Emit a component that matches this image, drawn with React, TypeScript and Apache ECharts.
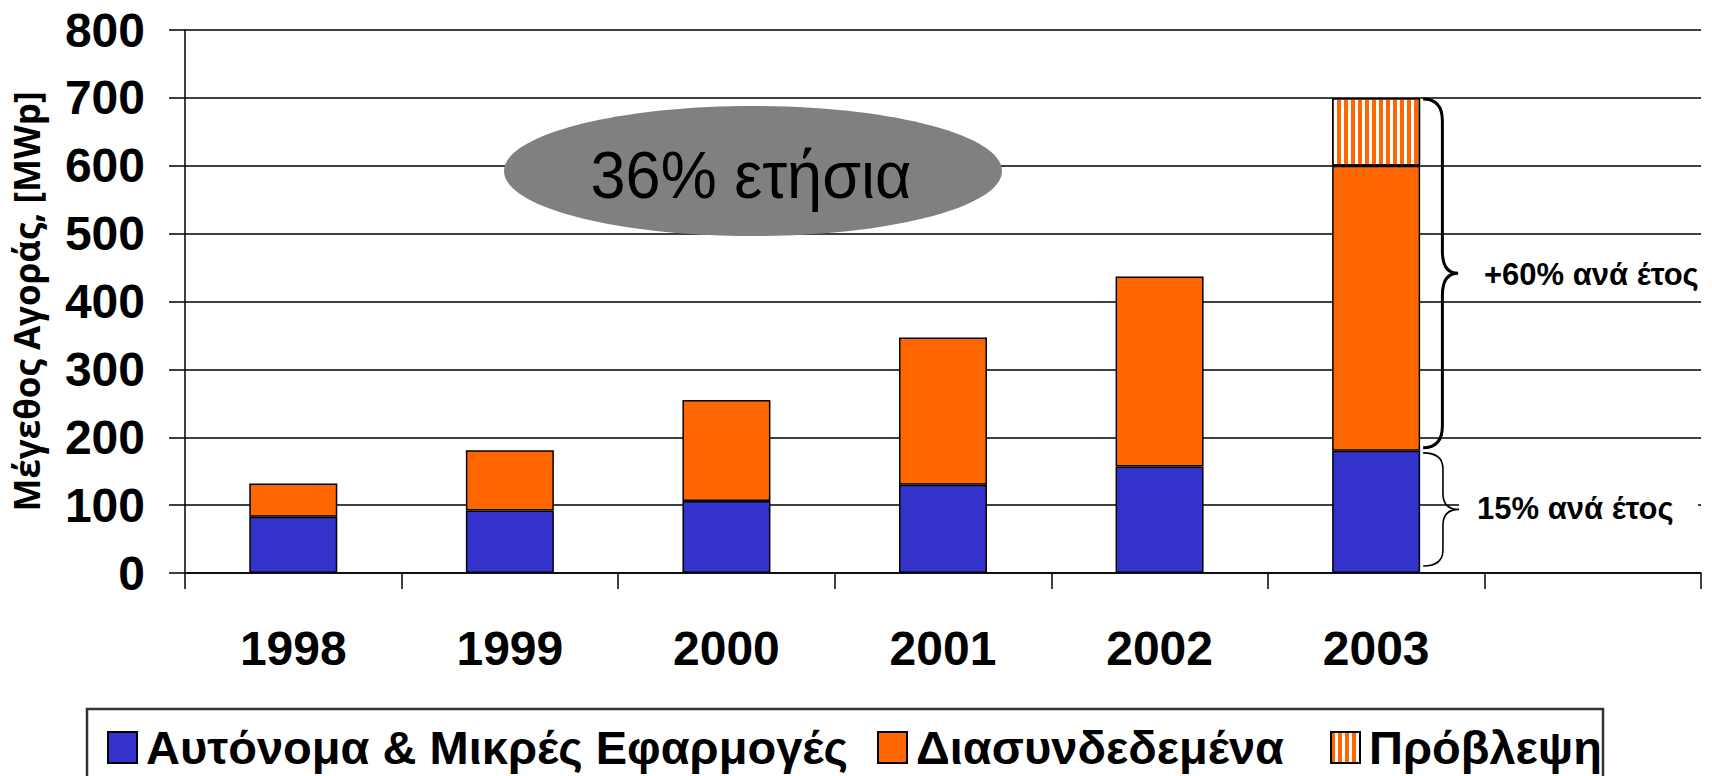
import React, { useEffect, useRef } from 'react';
import * as echarts from 'echarts';

const years = ['1998', '1999', '2000', '2001', '2002', '2003', ''];
const standalone = [83, 92, 106, 130, 157, 180, null];
const gridConnected = [49, 89, 149, 217, 280, 420, null];
const forecast = [null, null, null, null, null, 100, null];
const seriesNames = ['Αυτόνομα & Μικρές Εφαρμογές', 'Διασυνδεδεμένα', 'Πρόβλεψη'];
const yMin = 0;
const yMax = 800;
const yInterval = 100;
const yAxisTitle = 'Μέγεθος Αγοράς, [MWp]';
const bubbleText = '36% ετήσια';
const upperNote = '+60% ανά έτος';
const lowerNote = '15% ανά έτος';

const FONT = '"Liberation Sans", Arial, sans-serif';

const Brace = (echarts.graphic as any).extendShape({
  shape: { x: 0, y1: 0, y2: 0, w: 30, r: 20 },
  buildPath(ctx: any, s: any) {
    const { x, y1, y2, w, r } = s;
    const ym = (y1 + y2) / 2;
    const hx = w * 0.55;
    ctx.moveTo(x, y1);
    ctx.quadraticCurveTo(x + hx, y1, x + hx, y1 + r);
    ctx.lineTo(x + hx, ym - r);
    ctx.quadraticCurveTo(x + hx, ym, x + w, ym);
    ctx.moveTo(x + w, ym);
    ctx.quadraticCurveTo(x + hx, ym, x + hx, ym + r);
    ctx.lineTo(x + hx, y2 - r);
    ctx.quadraticCurveTo(x + hx, y2, x, y2);
  },
});
(echarts.graphic as any).registerShape('brace', Brace);

export default function App() {
  const ref = useRef<HTMLDivElement>(null);
  useEffect(() => {
    if (!ref.current) return;
    const chart = echarts.init(ref.current, null, { renderer: 'svg' });
    const barW = 88;
    const border = { borderColor: '#000', borderWidth: 1.5 };
    const legendLefts = [107, 877, 1330];
    const legends = seriesNames.map((name, k) => ({
      left: legendLefts[k],
      top: 724,
      padding: 0,
      icon: 'rect',
      itemWidth: 29,
      itemHeight: 31,
      selectedMode: false,
      textStyle: { fontSize: 47, fontWeight: 'bold', color: '#000', fontFamily: FONT, padding: [0, 0, 0, 4] },
      data: [name],
    }));
    chart.setOption({
      animation: false,
      backgroundColor: '#fff',
      textStyle: { fontFamily: FONT },
      grid: { left: 185, right: 11, top: 30, bottom: 203, outerBoundsMode: 'none', containLabel: false },
      legend: legends,
      xAxis: {
        type: 'category',
        data: years,
        axisLine: { lineStyle: { color: '#000', width: 1.5 } },
        axisTick: { show: true, length: 16, interval: 0, lineStyle: { color: '#000', width: 1.5 } },
        axisLabel: { interval: 0, fontSize: 48, fontWeight: 'bold', color: '#000', margin: 51, fontFamily: FONT },
      },
      yAxis: {
        type: 'value',
        min: yMin,
        max: yMax,
        interval: yInterval,
        name: yAxisTitle,
        nameLocation: 'middle',
        nameGap: 141,
        nameRotate: 90,
        nameTextStyle: { fontSize: 35, fontWeight: 'bold', color: '#000', fontFamily: '"Open Sans", sans-serif' },
        axisLine: { show: true, lineStyle: { color: '#000', width: 1.5 } },
        axisTick: { show: true, length: 16, lineStyle: { color: '#000', width: 1.5 } },
        axisLabel: { fontSize: 48, fontWeight: 'bold', color: '#000', margin: 40, fontFamily: FONT },
        splitLine: { show: true, lineStyle: { color: '#000', width: 1.5 } },
      },
      series: [
        {
          name: seriesNames[0], type: 'bar', stack: 'm', barWidth: barW,
          itemStyle: { color: '#3333CC', ...border }, data: standalone,
        },
        {
          name: seriesNames[1], type: 'bar', stack: 'm', barWidth: barW,
          itemStyle: { color: '#FF6600', ...border }, data: gridConnected,
        },
        {
          name: seriesNames[2], type: 'bar', stack: 'm', barWidth: barW,
          itemStyle: {
            color: '#FFFFFF', ...border,
            decal: { symbol: 'rect', symbolSize: 1, color: '#FF6600', dashArrayX: [4, 2.7], dashArrayY: [4, 0], rotation: 0 },
          },
          data: forecast,
        },
      ],
    });

    const i = 5;
    const cx = chart.convertToPixel({ xAxisIndex: 0 }, years[i]) as number;
    const barRight = cx + barW / 2;
    const total = (standalone[i] as number) + (gridConnected[i] as number) + (forecast[i] as number);
    const yTop = chart.convertToPixel({ yAxisIndex: 0 }, total) as number;
    const yBlue = chart.convertToPixel({ yAxisIndex: 0 }, standalone[i] as number) as number;
    const yZero = chart.convertToPixel({ yAxisIndex: 0 }, 0) as number;

    chart.setOption({
      graphic: [
        {
          type: 'ellipse', z: 10,
          shape: { cx: 753, cy: 171, rx: 249, ry: 65 },
          style: { fill: '#808080', stroke: 'none' },
        },
        {
          type: 'text', z: 11, x: 751, y: 175, scaleY: 1.07,
          style: { text: bubbleText, font: `normal 63px ${FONT}`, fill: '#000', textAlign: 'center', verticalAlign: 'middle' },
        },
        {
          type: 'brace', z: 10,
          shape: { x: barRight + 3, y1: yTop + 1, y2: yBlue - 3, w: 35, r: 22 },
          style: { stroke: '#000', lineWidth: 3, fill: 'none' },
        },
        {
          type: 'brace', z: 10,
          shape: { x: barRight + 3, y1: yBlue + 2, y2: yZero - 7, w: 36, r: 16 },
          style: { stroke: '#000', lineWidth: 1.6, fill: 'none' },
        },
        {
          type: 'text', z: 11, x: 1484, y: (yTop + yBlue) / 2,
          style: { text: upperNote, font: `bold 31px ${FONT}`, fill: '#000', textAlign: 'left', verticalAlign: 'middle' },
        },
        {
          type: 'rect', z: 10,
          shape: { x: 1459, y: (yBlue + yZero) / 2 - 22, width: 239, height: 44 },
          style: { fill: '#fff', stroke: 'none' },
        },
        {
          type: 'text', z: 11, x: 1477, y: (yBlue + yZero) / 2 - 3,
          style: { text: lowerNote, font: `bold 31px ${FONT}`, fill: '#000', textAlign: 'left', verticalAlign: 'middle' },
        },
        {
          type: 'rect', z: 10,
          shape: { x: 87, y: 709, width: 1516, height: 120 },
          style: { fill: 'none', stroke: '#333', lineWidth: 2.5 },
        },
      ],
    });
    return () => chart.dispose();
  }, []);
  return <div ref={ref} style={{ position: 'fixed', left: 0, top: 0, width: 1712, height: 776 }} />;
}
